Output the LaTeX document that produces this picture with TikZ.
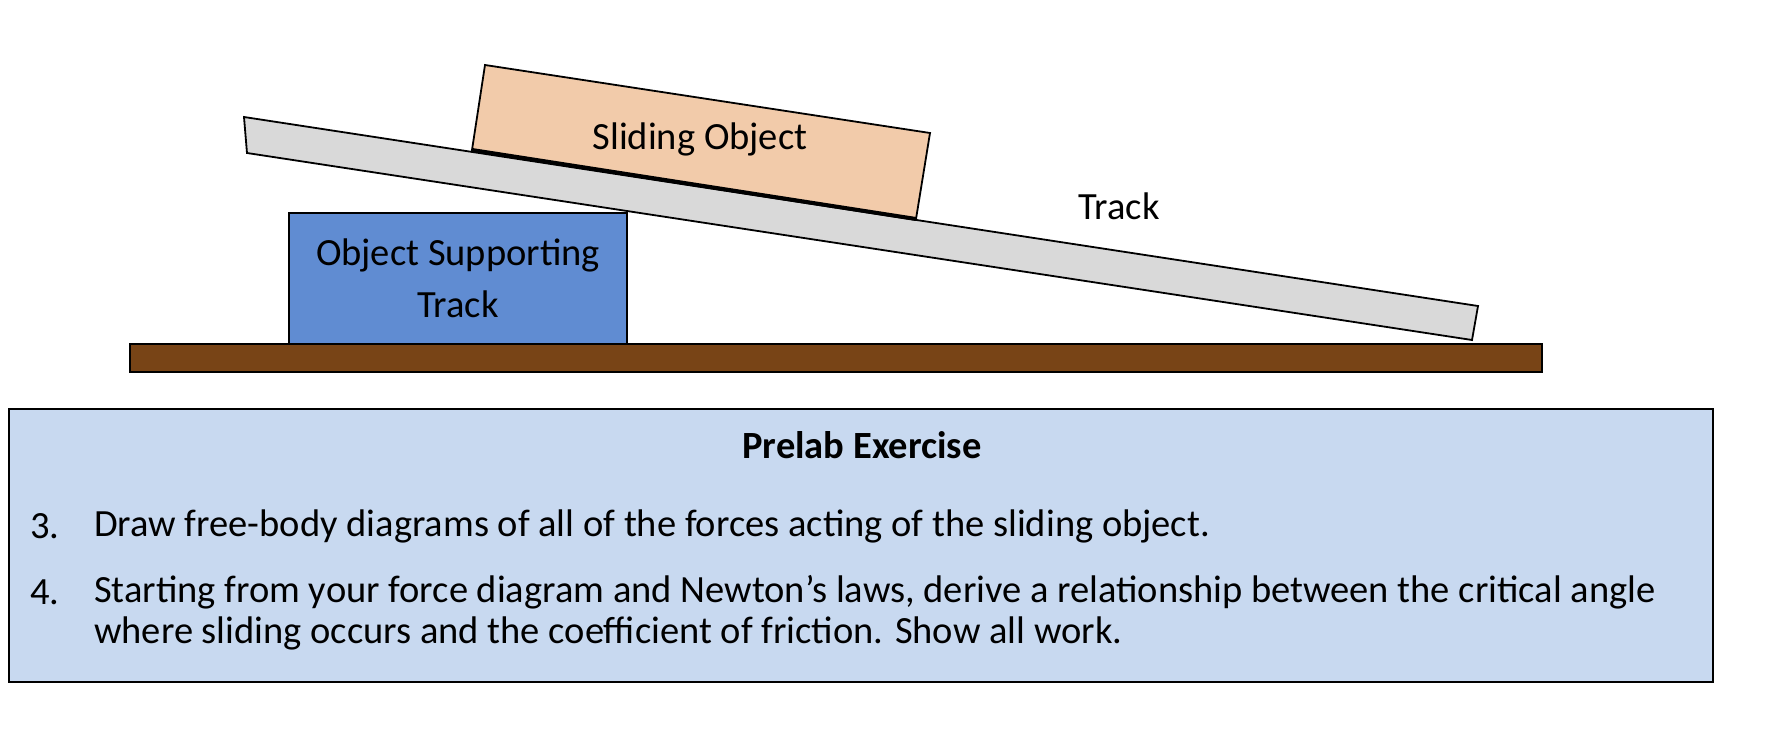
\documentclass[tikz,border=0pt]{standalone}
\usepackage{fontspec}
\setmainfont{Carlito}
\begin{document}
\begin{tikzpicture}[x=1pt,y=-1pt,
  shp/.style={draw=black,line width=1.8pt},
  fnt/.style={font=\fontsize{38.5}{52}\selectfont},
  txt/.style={fnt,anchor=west,inner sep=0pt}]
\useasboundingbox (0,0) rectangle (1778,746);
\draw[shp,fill=black!15] (244,117) -- (1478,306) -- (1472,340) -- (247,153) -- cycle;
\draw[shp,fill={rgb,255:red,242;green,203;blue,170}] (485,65) -- (930,133) -- (916,219) -- (472,150) -- cycle;
\draw[line width=4pt] (916,219) -- (472,150);
\node[shp,fill={rgb,255:red,96;green,140;blue,210},minimum width=338,minimum height=131,inner sep=0pt,align=center,fnt] (sup) at (458,278.5) {Object Supporting\\Track};
\node[fnt] (so) at (700,139) {Sliding Object};
\node[shp,fill={rgb,255:red,120;green,68;blue,22},minimum width=1412,minimum height=28,inner sep=0pt] (board) at (836,358) {};
\node[fnt] (tr) at (1119,206) {Track};
\node[shp,fill={rgb,255:red,200;green,217;blue,240},minimum width=1704,minimum height=273,inner sep=0pt] (box) at (861,545.5) {};
\node[fnt,font=\bfseries\fontsize{38.5}{52}\selectfont] (title) at (862,445) {Prelab Exercise};
\node[txt] (n3) at (30,526) {3.};
\node[txt] (t3) at (94,526) {Draw free-body diagrams of all of the forces acting of the sliding object.};
\node[txt] (n4) at (30,592) {4.};
\node[txt] (t4) at (94,592) {Starting from your force diagram and Newton’s laws, derive a relationship between the critical angle};
\node[txt] (t4b) at (94,633) {where sliding occurs and the coefficient of friction. Show all work.};
\end{tikzpicture}
\end{document}
